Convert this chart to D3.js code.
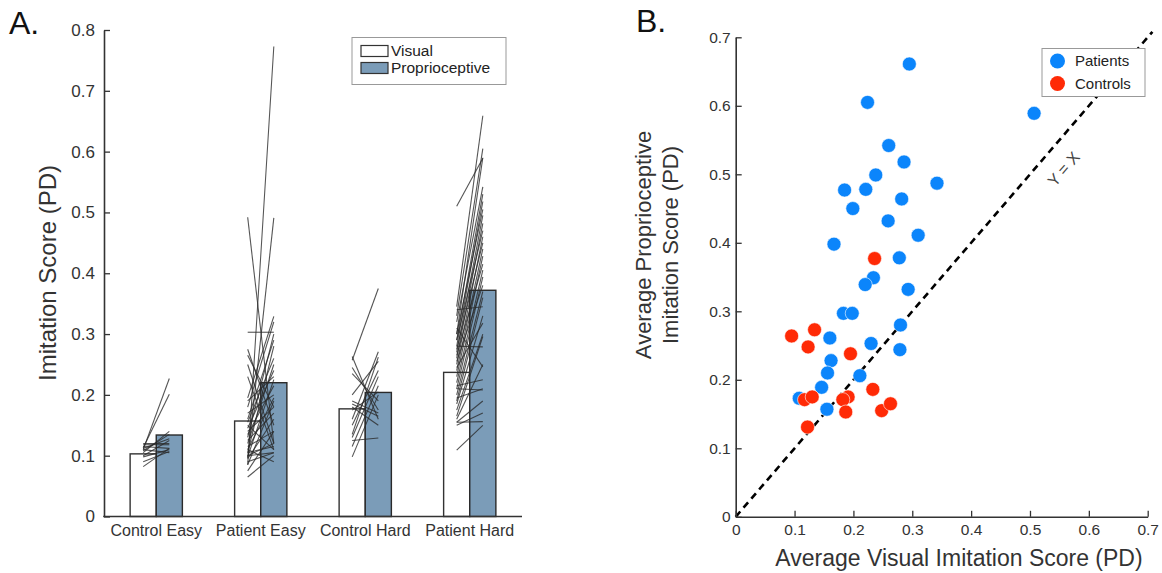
<!DOCTYPE html>
<html>
<head>
<meta charset="utf-8">
<script src="https://cdn.jsdelivr.net/npm/d3@7"></script>
<style>
  body { margin: 0; background: #fff; }
  svg { display: block; font-family: "Liberation Sans", Arial, Helvetica, sans-serif; }
</style>
</head>
<body>
<svg id="chart" width="1162" height="573"></svg>
<script>
// ---- panel A data ----
var categories = ['Control Easy', 'Patient Easy', 'Control Hard', 'Patient Hard'];
var visualMeans = [0.103, 0.157, 0.177, 0.237];
var proprioMeans = [0.134, 0.220, 0.204, 0.372];
var yTicksA = [0, 0.1, 0.2, 0.3, 0.4, 0.5, 0.6, 0.7, 0.8];

// one line per subject: visual score -> proprioceptive score
var ceVisual  = [0.110, 0.113, 0.105, 0.108, 0.112, 0.118, 0.115, 0.100, 0.098, 0.082, 0.090, 0.120, 0.110];
var ceProprio = [0.227, 0.201, 0.140, 0.135, 0.128, 0.118, 0.112, 0.125, 0.110, 0.112, 0.107, 0.120, 0.105];

var peVisual  = [0.085, 0.492, 0.096, 0.303, 0.275, 0.265, 0.250, 0.230, 0.195, 0.190, 0.180, 0.170,
                 0.160, 0.155, 0.150, 0.145, 0.140, 0.135, 0.130, 0.125, 0.120, 0.115, 0.110, 0.105,
                 0.100, 0.100, 0.098, 0.095, 0.090, 0.085, 0.075, 0.065, 0.110, 0.105];
var peProprio = [0.773, 0.120, 0.491, 0.303, 0.150, 0.180, 0.120, 0.110, 0.329, 0.230, 0.320, 0.200,
                 0.290, 0.260, 0.110, 0.240, 0.180, 0.215, 0.300, 0.170, 0.250, 0.140, 0.195, 0.280,
                 0.120, 0.105, 0.225, 0.160, 0.105, 0.190, 0.140, 0.100, 0.090, 0.115];

var chVisual  = [0.257, 0.263, 0.245, 0.235, 0.200, 0.190, 0.185, 0.180, 0.175, 0.160, 0.150, 0.135, 0.130, 0.125, 0.115, 0.098];
var chProprio = [0.375, 0.160, 0.175, 0.190, 0.255, 0.170, 0.165, 0.150, 0.205, 0.271, 0.240, 0.262, 0.230, 0.129, 0.215, 0.200];

var phVisual  = [0.510, 0.345, 0.330, 0.300, 0.320, 0.290, 0.280, 0.300, 0.270, 0.260, 0.290, 0.250,
                 0.275, 0.240, 0.230, 0.265, 0.220, 0.210, 0.255, 0.200, 0.190, 0.340, 0.185, 0.245,
                 0.175, 0.280, 0.165, 0.310, 0.160, 0.215, 0.210, 0.155, 0.150, 0.155, 0.109, 0.195];
var phProprio = [0.589, 0.659, 0.605, 0.590, 0.542, 0.530, 0.518, 0.505, 0.495, 0.482, 0.470, 0.460,
                 0.450, 0.440, 0.428, 0.415, 0.405, 0.394, 0.380, 0.370, 0.360, 0.345, 0.330, 0.318,
                 0.300, 0.279, 0.296, 0.246, 0.250, 0.225, 0.208, 0.190, 0.170, 0.156, 0.150, 0.210];

// ---- panel B data ----
var patientsVisual  = [0.295, 0.224, 0.507, 0.260, 0.286, 0.238, 0.185, 0.221, 0.342, 0.282, 0.199, 0.259,
                       0.310, 0.167, 0.278, 0.234, 0.220, 0.293, 0.183, 0.198, 0.280, 0.160, 0.230, 0.279,
                       0.162, 0.156, 0.211, 0.146, 0.108, 0.155];
var patientsProprio = [0.661, 0.605, 0.589, 0.542, 0.518, 0.499, 0.477, 0.478, 0.487, 0.464, 0.450, 0.432,
                       0.411, 0.398, 0.378, 0.349, 0.339, 0.332, 0.297, 0.297, 0.280, 0.261, 0.253, 0.244,
                       0.228, 0.210, 0.206, 0.189, 0.173, 0.157];
var controlsVisual  = [0.236, 0.095, 0.134, 0.123, 0.195, 0.233, 0.117, 0.130, 0.191, 0.182, 0.187, 0.248, 0.263, 0.122];
var controlsProprio = [0.377, 0.264, 0.273, 0.248, 0.238, 0.186, 0.171, 0.175, 0.175, 0.171, 0.153, 0.155, 0.165, 0.131];
var ticksB = [0, 0.1, 0.2, 0.3, 0.4, 0.5, 0.6, 0.7];

var textColor = '#333';
var axisColor = '#333';
var proprioFill = '#7b9cb8';
var patientColor = '#0b85fb';
var controlColor = '#ff2a06';

var svg = d3.select('#chart');

drawPanelA();
drawPanelB();

function styleAxis(g, fontSize){
    g.select('.domain').attr('stroke', axisColor).attr('stroke-width', 1.6);
    g.selectAll('.tick line').attr('stroke', axisColor).attr('stroke-width', 1.3);
    g.selectAll('.tick text').attr('fill', textColor).attr('font-size', fontSize)
        .attr('font-family', '"Liberation Sans", Arial, sans-serif');
}

function drawPanelA(){
    var x = d3.scaleBand().domain(categories).range([104, 522]).paddingInner(0.5).paddingOuter(0.25);
    var y = d3.scaleLinear().domain([0, 0.8]).range([516.5, 30]);
    var half = x.bandwidth() / 2;

    var g = svg.append('g');

    // bars
    g.selectAll('rect.visual')
        .data(categories)
        .enter()
        .append('rect')
        .attr('class', 'visual')
        .attr('x', function(d){ return x(d); })
        .attr('y', function(d, i){ return y(visualMeans[i]); })
        .attr('width', half)
        .attr('height', function(d, i){ return y(0) - y(visualMeans[i]); })
        .attr('fill', '#fff')
        .attr('stroke', '#333')
        .attr('stroke-width', 1.4);

    g.selectAll('rect.proprio')
        .data(categories)
        .enter()
        .append('rect')
        .attr('class', 'proprio')
        .attr('x', function(d){ return x(d) + half; })
        .attr('y', function(d, i){ return y(proprioMeans[i]); })
        .attr('width', half)
        .attr('height', function(d, i){ return y(0) - y(proprioMeans[i]); })
        .attr('fill', proprioFill)
        .attr('stroke', '#2a2a2a')
        .attr('stroke-width', 1.4);

    // subject lines, from the middle of the visual bar to the middle of the proprioceptive bar
    var visualSets = [ceVisual, peVisual, chVisual, phVisual];
    var proprioSets = [ceProprio, peProprio, chProprio, phProprio];
    var pairs = [];
    categories.forEach(function(c, i){
        visualSets[i].forEach(function(v, j){
            pairs.push({cat: c, v: v, p: proprioSets[i][j]});
        });
    });

    g.selectAll('line.subject')
        .data(pairs)
        .enter()
        .append('line')
        .attr('class', 'subject')
        .attr('x1', function(d){ return x(d.cat) + half / 2; })
        .attr('x2', function(d){ return x(d.cat) + half * 1.5; })
        .attr('y1', function(d){ return y(d.v); })
        .attr('y2', function(d){ return y(d.p); })
        .attr('stroke', '#2b2b2b')
        .attr('stroke-opacity', 0.8)
        .attr('stroke-width', 1.1);

    // axes
    var yAxis = g.append('g')
        .attr('transform', 'translate(104,0)')
        .call(d3.axisLeft(y).tickValues(yTicksA).tickFormat(d3.format('~g')).tickSizeInner(-6).tickSizeOuter(0).tickPadding(9));
    styleAxis(yAxis, 17);

    var xAxis = g.append('g')
        .attr('transform', 'translate(0,516.5)')
        .call(d3.axisBottom(x).tickSize(0).tickPadding(8));
    xAxis.select('.domain').remove();
    g.append('line')
        .attr('x1', 103.2).attr('x2', 522)
        .attr('y1', 516.5).attr('y2', 516.5)
        .attr('stroke', axisColor).attr('stroke-width', 1.6);
    styleAxis(xAxis, 16);

    // y title
    g.append('text')
        .attr('transform', 'translate(56,273) rotate(-90)')
        .attr('text-anchor', 'middle')
        .attr('font-size', 24)
        .attr('fill', textColor)
        .text('Imitation Score (PD)');

    // legend
    var legend = g.append('g');
    legend.append('rect')
        .attr('x', 352).attr('y', 37.5).attr('width', 154).attr('height', 47)
        .attr('fill', '#fff').attr('stroke', '#999').attr('stroke-width', 1);
    var items = [{label: 'Visual', fill: '#fff'}, {label: 'Proprioceptive', fill: proprioFill}];
    items.forEach(function(it, i){
        legend.append('rect')
            .attr('x', 361).attr('y', 45.5 + i * 17).attr('width', 27).attr('height', 11)
            .attr('fill', it.fill).attr('stroke', '#333').attr('stroke-width', 1.2);
        legend.append('text')
            .attr('x', 391).attr('y', 56 + i * 17)
            .attr('font-size', 15.5)
            .attr('fill', '#222')
            .text(it.label);
    });

    svg.append('text')
        .attr('x', 9).attr('y', 34)
        .attr('font-size', 32)
        .attr('fill', '#111')
        .text('A.');
}

function drawPanelB(){
    var x = d3.scaleLinear().domain([0, 0.7]).range([735.7, 1147.7]);
    var y = d3.scaleLinear().domain([0, 0.7]).range([516.8, 37.3]);

    var g = svg.append('g');

    // y = x reference
    g.append('line')
        .attr('x1', x(0)).attr('y1', y(0))
        .attr('x2', x(0.708)).attr('y2', y(0.708))
        .attr('stroke', '#000')
        .attr('stroke-width', 2.6)
        .attr('stroke-dasharray', '7,5');

    // label sits just below-right of the dashed line, reading along it
    var labelPos = [x(0.54) + 10, y(0.54) + 22];
    g.append('text')
        .attr('transform', 'translate(' + labelPos[0] + ',' + labelPos[1] + ') rotate(-49)')
        .attr('text-anchor', 'middle')
        .attr('dy', '0.35em')
        .attr('font-size', 16)
        .attr('fill', '#444')
        .text('Y = X');

    var patients = patientsVisual.map(function(v, i){ return [v, patientsProprio[i]]; });
    var controls = controlsVisual.map(function(v, i){ return [v, controlsProprio[i]]; });

    g.selectAll('circle.patient')
        .data(patients)
        .enter()
        .append('circle')
        .attr('class', 'patient')
        .attr('cx', function(d){ return x(d[0]); })
        .attr('cy', function(d){ return y(d[1]); })
        .attr('r', 7)
        .attr('fill', patientColor)
        .attr('stroke', '#fff')
        .attr('stroke-width', 0.6);

    g.selectAll('circle.control')
        .data(controls)
        .enter()
        .append('circle')
        .attr('class', 'control')
        .attr('cx', function(d){ return x(d[0]); })
        .attr('cy', function(d){ return y(d[1]); })
        .attr('r', 7)
        .attr('fill', controlColor)
        .attr('stroke', '#fff')
        .attr('stroke-width', 0.6);

    var fmt = d3.format('~g');
    var xAxis = g.append('g')
        .attr('transform', 'translate(0,516.8)')
        .call(d3.axisBottom(x).tickValues(ticksB).tickFormat(fmt).tickSizeInner(-6).tickSizeOuter(0).tickPadding(7));
    styleAxis(xAxis, 15.5);

    var yAxis = g.append('g')
        .attr('transform', 'translate(735.7,0)')
        .call(d3.axisLeft(y).tickValues(ticksB).tickFormat(fmt).tickSizeInner(-6).tickSizeOuter(0).tickPadding(5));
    styleAxis(yAxis, 15.5);

    g.append('text')
        .attr('x', 959).attr('y', 566)
        .attr('text-anchor', 'middle')
        .attr('font-size', 23)
        .attr('fill', textColor)
        .text('Average Visual Imitation Score (PD)');

    var yTitle = g.append('text')
        .attr('transform', 'translate(651,245) rotate(-90)')
        .attr('text-anchor', 'middle')
        .attr('font-size', 22)
        .attr('fill', textColor);
    yTitle.append('tspan').attr('x', 0).attr('dy', 0).text('Average Proprioceptive');
    yTitle.append('tspan').attr('x', 0).attr('dy', 27).text('Imitation Score (PD)');

    // legend
    var legend = g.append('g');
    legend.append('rect')
        .attr('x', 1042).attr('y', 48.5).attr('width', 103).attr('height', 48)
        .attr('fill', '#fff').attr('stroke', '#999').attr('stroke-width', 1);
    var items = [{label: 'Patients', color: patientColor}, {label: 'Controls', color: controlColor}];
    items.forEach(function(it, i){
        legend.append('circle')
            .attr('cx', 1057.5).attr('cy', 61 + i * 22.5).attr('r', 7.5)
            .attr('fill', it.color);
        legend.append('text')
            .attr('x', 1075).attr('y', 66 + i * 22.5)
            .attr('font-size', 15)
            .attr('fill', '#222')
            .text(it.label);
    });

    svg.append('text')
        .attr('x', 636).attr('y', 32)
        .attr('font-size', 32)
        .attr('fill', '#111')
        .text('B.');
}
</script>
</body>
</html>
